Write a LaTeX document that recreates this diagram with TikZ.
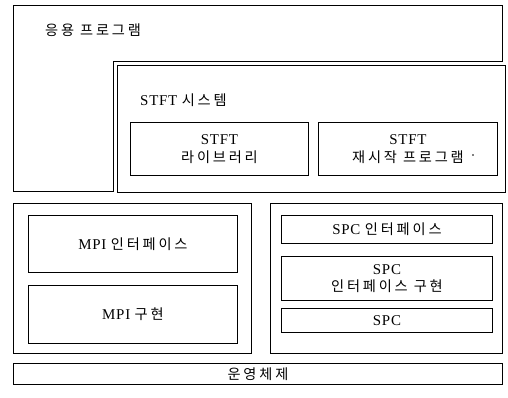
\documentclass[tikz,border=0pt]{standalone}
\usepackage{fontspec}
\setmainfont[LetterSpace=5]{Liberation Serif}
\newfontfamily\kr[Scale=0.95,LetterSpace=20]{Noto Sans CJK KR}
\begin{document}
\begin{tikzpicture}[x=1bp,y=-1bp,
  frame/.style={draw=black,line width=0.9bp},
  box/.style={draw=black,line width=0.9bp,inner sep=0pt,align=center,font=\fontsize{15}{18}\selectfont},
  lbl/.style={inner sep=0pt,font=\fontsize{15}{18}\selectfont}]
\useasboundingbox (0,0) rectangle (508,397);
% application program (stepped outline)
\draw[frame] (13,5) -- (502,5) -- (502,61) -- (113,61) -- (113,191) -- (13,191) -- cycle;
\node[lbl,anchor=west] (app) at (45,30) {\kr 응용 프로그램};
% STFT system
\node[box,minimum width=388bp,minimum height=127bp,anchor=north west] (stftsys) at (117,65) {};
\node[lbl,anchor=west] (stftlbl) at (140,100) {STFT {\kr 시스템}};
\node[box,minimum width=178bp,minimum height=53bp,anchor=north west] (lib) at (130,122) {STFT\\[0pt]{\kr 라이브러리}};
\node[box,minimum width=179bp,minimum height=53bp,anchor=north west] (restart) at (318,122) {STFT\\[0pt]{\kr 재시작 프로그램}};
\fill (473,155) circle (0.8bp);
% MPI side
\node[box,minimum width=238bp,minimum height=150bp,anchor=north west] (mpi) at (13,203) {};
\node[box,minimum width=209bp,minimum height=57bp,anchor=north west] (mpiif) at (28,215) {MPI {\kr 인터페이스}};
\node[box,minimum width=209bp,minimum height=58bp,anchor=north west] (mpiimpl) at (28,285) {MPI {\kr 구현}};
% SPC side
\node[box,minimum width=232bp,minimum height=150bp,anchor=north west] (spc) at (270,203) {};
\node[box,minimum width=211bp,minimum height=28bp,anchor=north west] (spcif) at (281,215) {SPC {\kr 인터페이스}};
\node[box,minimum width=211bp,minimum height=44bp,anchor=north west] (spcimpl) at (281,256) {SPC\\[-1pt]{\kr 인터페이스 구현}};
\node[box,minimum width=211bp,minimum height=24bp,anchor=north west] (spcbox) at (281,308) {SPC};
% operating system
\node[box,minimum width=489bp,minimum height=21bp,anchor=north west] (os) at (13,363) {\kr 운영체제};
\end{tikzpicture}
\end{document}
